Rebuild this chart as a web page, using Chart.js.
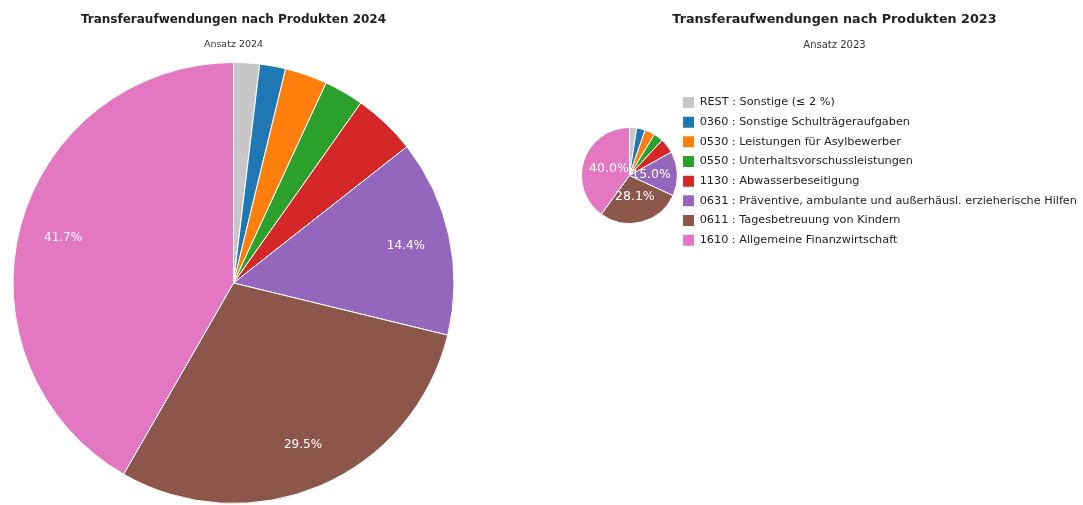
<!DOCTYPE html>
<html>
<head>
<meta charset="utf-8">
<script src="https://cdn.jsdelivr.net/npm/chart.js@4.4.1/dist/chart.umd.min.js"></script>
<style>
  html, body { margin: 0; padding: 0; background: #fff; overflow: hidden; width: 1083px; height: 505px; }
  #left { position: absolute; left: 0; top: 0; }
  #right { position: absolute; left: 560px; top: 0; }
</style>
</head>
<body>
<canvas id="left" width="467" height="505"></canvas>
<canvas id="right" width="530" height="505"></canvas>
<script>
// Produkte (Legende)
const categories = [
    'REST : Sonstige (≤ 2 %)',
    '0360 : Sonstige Schulträgeraufgaben',
    '0530 : Leistungen für Asylbewerber',
    '0550 : Unterhaltsvorschussleistungen',
    '1130 : Abwasserbeseitigung',
    '0631 : Präventive, ambulante und außerhäusl. erzieherische Hilfen',
    '0611 : Tagesbetreuung von Kindern',
    '1610 : Allgemeine Finanzwirtschaft'
];
// Anteile in %
const values2024 = [1.9, 1.9, 3.1, 2.9, 4.6, 14.4, 29.5, 41.7];
const values2023 = [2.4, 2.9, 3.4, 3.2, 5.0, 15.0, 28.1, 40.0];
const colors = ['#c7c7c7', '#1f77b4', '#ff7f0e', '#2ca02c', '#d62728', '#9467bd', '#8c564b', '#e377c2'];

const FONT = 'DejaVu Sans';

// Prozentwerte in die Segmente schreiben
const sliceLabels = {
    id: 'sliceLabels',
    afterDatasetsDraw(chart, args, opts) {
        const ctx = chart.ctx;
        const data = chart.data.datasets[0].data;
        const total = data.reduce((a, b) => a + b, 0);
        const meta = chart.getDatasetMeta(0);
        ctx.save();
        ctx.fillStyle = '#fff';
        ctx.font = opts.size + 'px ' + FONT;
        ctx.textAlign = 'center';
        ctx.textBaseline = 'middle';
        meta.data.forEach((arc, i) => {
            const pct = data[i] / total * 100;
            if (pct < opts.min) return;
            const p = arc.getProps(['x', 'y', 'startAngle', 'endAngle', 'outerRadius'], true);
            const mid = (p.startAngle + p.endAngle) / 2;
            const d = p.outerRadius * opts.factor;
            ctx.fillText(pct.toFixed(1) + '%', p.x + Math.cos(mid) * d, p.y + Math.sin(mid) * d);
        });
        ctx.restore();
    }
};

function noBorderLabels(chart) {
    const items = Chart.overrides.pie.plugins.legend.labels.generateLabels(chart);
    items.forEach(it => { it.lineWidth = 0; });
    return items;
}

// Diagramm 2024
new Chart(document.getElementById('left'), {
    type: 'pie',
    data: {
        labels: categories,
        datasets: [{
            data: values2024,
            backgroundColor: colors,
            borderColor: '#fff',
            borderWidth: 1
        }]
    },
    options: {
        responsive: false,
        animation: false,
        layout: { padding: { top: 0, bottom: 1, left: 0, right: 0 } },
        plugins: {
            legend: { display: false },
            tooltip: { enabled: false },
            title: {
                display: true,
                text: 'Transferaufwendungen nach Produkten 2024',
                color: '#222',
                font: { family: FONT, size: 12, weight: 'bold' },
                padding: { top: 12.8, bottom: 0 }
            },
            subtitle: {
                display: true,
                text: 'Ansatz 2024',
                color: '#333',
                font: { family: FONT, size: 9.5 },
                padding: { top: 12.1, bottom: 11.3 }
            },
            sliceLabels: { factor: 0.8, min: 10, size: 12 }
        }
    },
    plugins: [sliceLabels]
});

// Diagramm 2023
new Chart(document.getElementById('right'), {
    type: 'pie',
    data: {
        labels: categories,
        datasets: [{
            data: values2023,
            backgroundColor: colors,
            borderColor: '#fff',
            borderWidth: 1,
            radius: 48
        }]
    },
    options: {
        responsive: false,
        animation: false,
        layout: { padding: { top: 0, bottom: 242.4, left: 24.3, right: 5.4 } },
        plugins: {
            tooltip: { enabled: false },
            title: {
                display: true,
                text: 'Transferaufwendungen nach Produkten 2023',
                color: '#222',
                font: { family: FONT, size: 12.75, weight: 'bold' },
                padding: { top: 12.35, bottom: 0 }
            },
            subtitle: {
                display: true,
                text: 'Ansatz 2023',
                color: '#333',
                font: { family: FONT, size: 10 },
                padding: { top: 11.35, bottom: 37.4 }
            },
            legend: {
                position: 'right',
                align: 'start',
                fullSize: false,
                maxWidth: 410,
                labels: {
                    boxWidth: 11,
                    boxHeight: 11,
                    padding: 8.43,
                    color: '#222',
                    font: { family: FONT, size: 11.25 },
                    generateLabels: noBorderLabels
                }
            },
            sliceLabels: { factor: 0.45, min: 10, size: 12.5 }
        }
    },
    plugins: [sliceLabels]
});
</script>
</body>
</html>
